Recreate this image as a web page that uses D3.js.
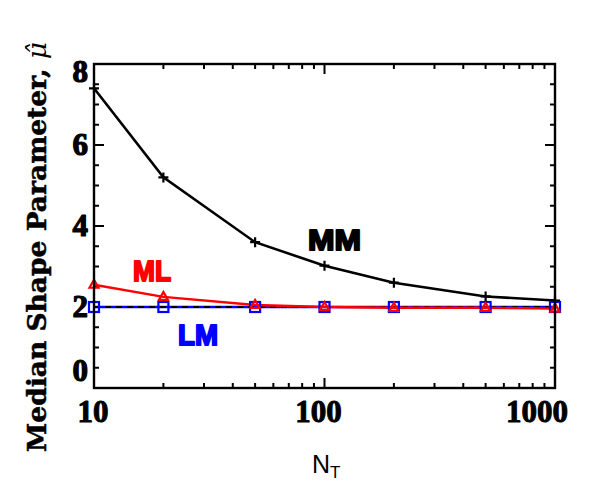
<!DOCTYPE html>
<html><head><meta charset="utf-8">
<script src="https://cdn.jsdelivr.net/npm/d3@7"></script>
<style>body{margin:0;background:#fff}</style>
</head><body>
<svg id="c" width="602" height="481"></svg>
<script>
const nT = [10, 20, 50, 100, 200, 500, 1000];
const mmValues = [7.4, 5.2, 3.6, 3.02, 2.6, 2.26, 2.16];
const mlValues = [2.55, 2.25, 2.05, 2.0, 1.98, 1.98, 1.96];
const lmValues = [2.0, 2.0, 2.0, 2.0, 2.0, 2.0, 2.0];
const trueValue = 2;
const xTickLabels = ["10", "100", "1000"];
const yTickLabels = ["0", "2", "4", "6", "8"];

const svg = d3.select("#c");
const L = 94, R = 555, T = 64, B = 388;
const x = d3.scaleLog().domain([10, 1000]).range([L, R]);
const y = d3.scaleLinear().domain([0, 8]).range([B, T]);

const xMinor = [];
for (let d = 10; d <= 100; d *= 10) for (let k = 2; k <= 9; k++) xMinor.push(d * k);
const xMajor = [10, 100, 1000];
const yMajor = [0, 2, 4, 6, 8];
const yMinor = d3.range(0, 8.01, 0.5).filter(v => v % 2 !== 0);

const g = svg.append("g");
const tk = g.append("g").attr("stroke", "#000").attr("stroke-width", 2);
xMajor.forEach(v => {
  tk.append("line").attr("x1", x(v)).attr("x2", x(v)).attr("y1", B).attr("y2", B - 10);
  tk.append("line").attr("x1", x(v)).attr("x2", x(v)).attr("y1", T).attr("y2", T + 10);
});
xMinor.forEach(v => {
  tk.append("line").attr("x1", x(v)).attr("x2", x(v)).attr("y1", B).attr("y2", B - 5);
  tk.append("line").attr("x1", x(v)).attr("x2", x(v)).attr("y1", T).attr("y2", T + 5);
});
yMajor.forEach(v => {
  tk.append("line").attr("x1", L).attr("x2", L + 10).attr("y1", y(v)).attr("y2", y(v));
  tk.append("line").attr("x1", R).attr("x2", R - 10).attr("y1", y(v)).attr("y2", y(v));
});
yMinor.forEach(v => {
  tk.append("line").attr("x1", L).attr("x2", L + 5).attr("y1", y(v)).attr("y2", y(v));
  tk.append("line").attr("x1", R).attr("x2", R - 5).attr("y1", y(v)).attr("y2", y(v));
});

const xdx = {"10": -1, "100": -6, "1000": -18};
g.selectAll(".xl").data(xTickLabels).enter().append("text")
  .attr("x", d => x(+d) + xdx[d]).attr("y", 422)
  .attr("text-anchor", "middle")
  .attr("font-family", "Liberation Serif").attr("font-weight", "bold").attr("font-size", 31)
  .attr("stroke", "#000").attr("stroke-width", 1).attr("stroke-linejoin", "round")
  .text(d => d);
const ydy = {"0": -17, "8": 8};
g.selectAll(".yl").data(yTickLabels).enter().append("text")
  .attr("x", 88).attr("y", d => y(+d) + 10 + (ydy[d] || 0))
  .attr("text-anchor", "end")
  .attr("font-family", "Liberation Serif").attr("font-weight", "bold").attr("font-size", 31)
  .attr("stroke", "#000").attr("stroke-width", 1.2).attr("stroke-linejoin", "round")
  .text(d => d);

const line = vals => d3.line().x((d, i) => x(nT[i])).y(d => y(d))(vals);
const data = nT.map((n, i) => ({n, mm: mmValues[i], ml: mlValues[i], lm: lmValues[i]}));

g.append("path").attr("d", line(lmValues)).attr("fill", "none").attr("stroke", "#0000ff").attr("stroke-width", 2.4);
g.append("line").attr("x1", x(10)).attr("x2", x(1000)).attr("y1", y(trueValue)).attr("y2", y(trueValue))
  .attr("stroke", "#000").attr("stroke-width", 1.8).attr("stroke-dasharray", "6,5");
g.append("path").attr("d", line(mlValues)).attr("fill", "none").attr("stroke", "#ff0000").attr("stroke-width", 2.4);
g.append("path").attr("d", line(mmValues)).attr("fill", "none").attr("stroke", "#000").attr("stroke-width", 2.6);

g.selectAll(".lm").data(data).enter().append("rect")
  .attr("x", d => x(d.n) - 5).attr("y", d => y(d.lm) - 5).attr("width", 10).attr("height", 10)
  .attr("fill", "none").attr("stroke", "#0000ff").attr("stroke-width", 2.2);
g.selectAll(".ml").data(data).enter().append("path")
  .attr("d", d => `M${x(d.n)},${y(d.ml) - 5}L${x(d.n) + 4.5},${y(d.ml) + 3}L${x(d.n) - 4.5},${y(d.ml) + 3}Z`)
  .attr("fill", "none").attr("stroke", "#ff0000").attr("stroke-width", 2.2);
g.selectAll(".mm").data(data).enter().append("path")
  .attr("d", d => `M${x(d.n) - 5},${y(d.mm)}H${x(d.n) + 5}M${x(d.n)},${y(d.mm) - 5}V${y(d.mm) + 5}`)
  .attr("stroke", "#000").attr("stroke-width", 2.2);

g.append("rect").attr("x", L).attr("y", T).attr("width", R - L).attr("height", B - T)
  .attr("fill", "none").attr("stroke", "#000").attr("stroke-width", 2.4);

const lab = (t, px, py, col, len) => g.append("text").attr("x", px).attr("y", py)
  .attr("font-family", "Liberation Sans").attr("font-weight", "bold").attr("font-size", 30)
  .attr("fill", col).attr("stroke", col).attr("stroke-width", 2).attr("stroke-linejoin", "round")
  .attr("textLength", len).attr("lengthAdjust", "spacingAndGlyphs").text(t);
lab("MM", 308, 250, "#000", 53);
lab("ML", 133, 281, "#ff0000", 38);
lab("LM", 178, 345, "#0000ff", 40);

const xt = svg.append("text").attr("x", 312).attr("y", 473)
  .attr("font-family", "Liberation Sans").attr("font-size", 25).attr("fill", "#000");
xt.append("tspan").text("N");
xt.append("tspan").attr("font-size", 17).attr("dy", 5).text("T");

const yt = svg.append("text").attr("transform", "translate(46,452) rotate(-90)")
  .attr("font-family", "DejaVu Serif").attr("font-weight", "bold").attr("font-size", 26.5)
  .attr("fill", "#000").attr("stroke", "#000").attr("stroke-width", 0.5).attr("stroke-linejoin", "round");
yt.append("tspan").text("Median Shape Parameter, ");
yt.append("tspan").attr("font-style", "italic").attr("font-weight", "normal").attr("stroke-width", 0).text("\u03BC\u0302");
</script>
</body></html>
